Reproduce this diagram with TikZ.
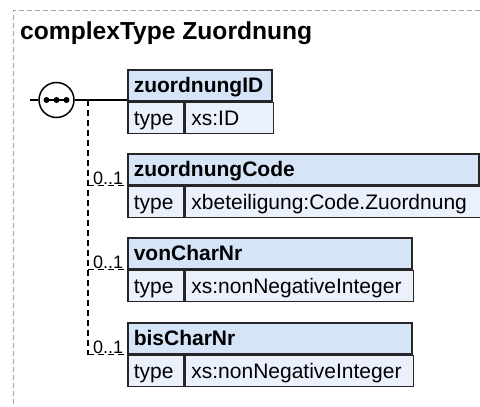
\documentclass[tikz,border=0pt]{standalone}
\usepackage{fontspec}
\setmainfont{Liberation Sans}
\usepackage{xcolor}
\usepackage{tikz}
\usetikzlibrary{positioning}

\definecolor{hdrblue}{HTML}{D6E4F8}
\definecolor{rowblue}{HTML}{EAF1FC}

\begin{document}
\begin{tikzpicture}[x=1pt,y=-1pt,
  frame/.style={draw=black!35,line width=1pt,dash pattern=on 5pt off 3pt},
  title/.style={font=\fontsize{24.6}{28}\selectfont\bfseries,inner sep=0pt,anchor=base west},
  cell/.style={draw=black!85,line width=1.6pt,anchor=north west,align=left,
    inner xsep=6pt,inner ysep=0pt,minimum height=31pt,text height=15pt,text depth=0pt,
    font=\fontsize{21}{24}\selectfont},
  hdr/.style={cell,fill=hdrblue,font=\fontsize{21}{24}\selectfont\bfseries},
  row/.style={cell,fill=rowblue},
  conn/.style={line width=1.5pt,black},
  opt/.style={conn,dash pattern=on 6pt off 4pt},
  mult/.style={font=\fontsize{18}{20}\selectfont,inner sep=0pt,anchor=base east}]
  \useasboundingbox (0,0) rectangle (480,407);
  \draw[frame] (480,10) -- (13,10) -- (13,407);
  \node[title] (title) at (20,39) {complexType Zuordnung};
  % die vier Elemente der Sequenz
  \foreach \n/\y/\w/\nm/\tp in {zid/69/144/zuordnungID/xs:ID,
      zcode/153/351/zuordnungCode/xbeteiligung:Code.Zuordnung,
      von/237/284/vonCharNr/xs:nonNegativeInteger,
      bis/322/284/bisCharNr/xs:nonNegativeInteger}{
    \node[hdr,text width=\w pt-12pt] (\n) at (127,\y) {\nm};
    \node[row,text width=44pt] (\n-t) at (\n.south west) {type};
    \node[row,text width=\w pt-68pt] (\n-v) at (\n-t.north east) {\tp};
  }
  % Sequenz-Symbol
  \coordinate (start) at (30,100);
  \node[draw,circle,conn,fill=white,minimum size=35pt,inner sep=0pt] (seq) at (56.5,100) {};
  \draw[conn] (start) -- (seq.west);
  \draw[conn] (seq.east) -- (seq.east -| zid.west);
  \draw[conn] ([xshift=-10pt]seq.center) -- ([xshift=10pt]seq.center);
  \foreach \dx in {-10,0,10}
  \fill ([xshift=\dx pt]seq.center) circle (3pt);
  % optionale Elemente 0..1
  \coordinate (j0) at (88,100);
  \draw[opt] (j0) -- (j0 |- bis.south west);
  \foreach \n in {zcode,von,bis}
  \draw[opt] (j0 |- \n.south west) -- (\n.south west)
  node[mult,xshift=-3pt,yshift=1.5pt] (\n-m) {0..1};
\end{tikzpicture}
\end{document}
